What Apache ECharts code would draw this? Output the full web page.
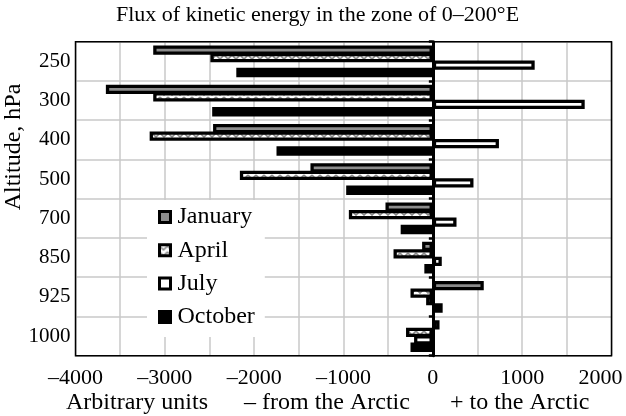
<!DOCTYPE html>
<html>
<head>
<meta charset="UTF-8">
<title>Flux of kinetic energy</title>
<script src="https://cdn.jsdelivr.net/npm/echarts@6/dist/echarts.min.js"></script>
<style>
    html, body { margin: 0; padding: 0; background: #fff; }
    #chart { width: 626px; height: 416px; }
</style>
</head>
<body>
<div id="chart"></div>
<script>
    // altitude levels, hPa (top to bottom)
    var levels = ['250', '300', '400', '500', '700', '850', '925', '1000'];
    // arbitrary units, negative = from the Arctic
    var january = [-3130, -3660, -2460, -1370, -530, -120, 570, 75];
    var april   = [-2490, -3130, -3170, -2160, -940, -440, -250, -300];
    var july    = [1140, 1700, 740, 455, 265, 100, -75, -210];
    var october = [-2200, -2470, -1750, -970, -360, -95, 110, -250];
    var xMin = -4000, xMax = 2000, xLabelStep = 1000;

    var font = "'Liberation Serif', 'Times New Roman', serif";
    var plot = { left: 75.5, top: 41.7, width: 536, height: 314 };

    function makeHatch() {
        var c = document.createElement('canvas');
        c.width = 8;
        c.height = 6;
        var g = c.getContext('2d');
        g.fillStyle = '#fff';
        g.fillRect(0, 0, 8, 6);
        g.strokeStyle = '#8a8a8a';
        g.lineWidth = 1.6;
        g.beginPath();
        g.moveTo(0, 1);
        g.lineTo(4, 5);
        g.lineTo(8, 1);
        g.stroke();
        return c;
    }
    var hatch = { image: makeHatch(), repeat: 'repeat' };

    var styles = {
        January: { color: '#8c8c8c', borderColor: '#000', borderWidth: 3.3 },
        April: { color: hatch, borderColor: '#000', borderWidth: 3.3 },
        July: { color: '#fff', borderColor: '#000', borderWidth: 3.3 },
        October: { color: '#000', borderColor: '#000', borderWidth: 3.3 }
    };

    function makeSeries(name, values) {
        return {
            name: name,
            type: 'bar',
            yAxisIndex: 0,
            barWidth: 9.3,
            barGap: '-20%',
            data: values,
            itemStyle: styles[name]
        };
    }

    function legendItem(name) {
        var s = styles[name];
        return { name: name, itemStyle: { color: s.color, borderColor: '#000', borderWidth: 3 } };
    }

    var textStyle = function (size) {
        return { fontFamily: font, fontSize: size, fontWeight: 'normal', color: '#000' };
    };

    var myChart = echarts.init(document.getElementById('chart'));
    var option = {
        animation: false,
        title: [{
            text: 'Flux of kinetic energy in the zone of 0\u2013200\u00b0E',
            left: 116, top: 4, padding: 0,
            textStyle: textStyle(22)
        }, {
            text: 'Arbitrary units',
            left: 66, top: 391, padding: 0,
            textStyle: textStyle(24)
        }, {
            text: '\u2013 from the Arctic',
            left: 244, top: 391, padding: 0,
            textStyle: textStyle(24)
        }, {
            text: '+ to the Arctic',
            left: 450, top: 391, padding: 0,
            textStyle: textStyle(24)
        }],
        graphic: [{
            type: 'text',
            x: 14,
            y: 147,
            rotation: Math.PI / 2,
            style: {
                text: 'Altitude, hPa',
                font: '24px ' + font,
                fill: '#000',
                align: 'center',
                verticalAlign: 'middle'
            }
        }, {
            type: 'rect',
            z: 100,
            shape: { x: plot.left, y: plot.top, width: plot.width, height: plot.height },
            style: { fill: 'none', stroke: '#000', lineWidth: 1.5 }
        }],
        legend: {
            orient: 'vertical',
            left: 147,
            top: 200,
            padding: [5, 10, 8, 11],
            backgroundColor: '#fff',
            icon: 'rect',
            itemWidth: 11,
            itemHeight: 11,
            itemGap: 9.3,
            textStyle: { fontFamily: font, fontSize: 24, color: '#000', padding: [0, 0, 0, 2] },
            data: [legendItem('January'), legendItem('April'), legendItem('July'), legendItem('October')]
        },
        grid: {
            left: plot.left,
            top: plot.top,
            width: plot.width,
            height: plot.height,
            show: false
        },
        xAxis: {
            type: 'value',
            min: xMin,
            max: xMax,
            interval: 500,
            axisLine: { show: false },
            axisTick: { show: false },
            splitLine: { lineStyle: { color: '#c8c8c8', width: 1.5 } },
            axisLabel: {
                margin: 12,
                fontFamily: font,
                fontSize: 22,
                color: '#000',
                formatter: function (v) {
                    if (v % xLabelStep !== 0) return '';
                    var s = v < 0 ? '\u2013' + (-v) : String(v);
                    return v === xMax ? '{r|' + s + '}' : s;
                },
                rich: {
                    r: { fontFamily: font, fontSize: 22, color: '#000', padding: [0, 22, 0, 0] }
                }
            }
        },
        yAxis: [{
            type: 'category',
            data: levels,
            inverse: true,
            position: 'left',
            axisLine: { show: false, onZero: false },
            axisTick: { show: false },
            splitLine: { show: true, lineStyle: { color: '#c8c8c8', width: 1.5 } },
            axisLabel: { margin: 5, fontFamily: font, fontSize: 21, color: '#000' }
        }, {
            type: 'category',
            data: levels,
            inverse: true,
            position: 'right',
            z: 10,
            axisLine: { show: true, onZero: true, lineStyle: { color: '#000', width: 3 } },
            axisTick: { show: true, inside: true, length: 4, lineStyle: { color: '#000', width: 2.5 } },
            axisLabel: { show: false },
            splitLine: { show: false }
        }],
        series: [
            makeSeries('January', january),
            makeSeries('April', april),
            makeSeries('July', july),
            makeSeries('October', october)
        ]
    };
    myChart.setOption(option);
</script>
</body>
</html>
